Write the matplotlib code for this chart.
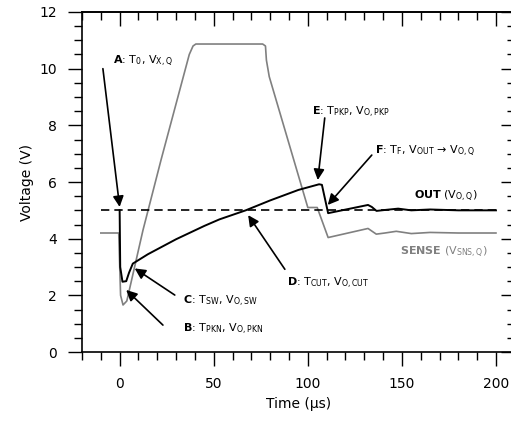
import matplotlib
matplotlib.use("Agg")
import matplotlib.pyplot as plt
from matplotlib.ticker import MultipleLocator

plt.rcParams['axes.linewidth'] = 1.2

# output voltage (black)
t_out = [0, 0.3, 1.5, 3.5, 5, 7, 15, 30, 45, 53, 67, 80, 95, 106, 107.5,
         110.8, 132, 134, 136.5, 142, 148, 155, 165, 180, 200]
v_out = [5.0, 3.0, 2.48, 2.5, 2.8, 3.12, 3.45, 3.98, 4.45, 4.68, 5.0, 5.35, 5.72, 5.92, 5.9,
         4.9, 5.19, 5.12, 4.98, 5.02, 5.06, 5.0, 5.03, 5.0, 5.0]

# sense voltage (gray)
t_sns = [-10, -0.5, 0.5, 1.8, 3.8, 4.5, 12.4, 22, 37, 39, 40.5, 76, 77.5, 78, 79.5,
         100, 105, 110.8, 132, 136.4, 141, 147, 155, 165, 180, 200]
v_sns = [4.2, 4.2, 2.0, 1.66, 1.8, 2.0, 4.3, 6.78, 10.5, 10.8, 10.87, 10.87, 10.8, 10.3, 9.72,
         5.1, 5.1, 4.04, 4.36, 4.16, 4.2, 4.26, 4.18, 4.22, 4.2, 4.2]

# quiescent level
t_q = [-10, 200]
v_q = [5.0, 5.0]

# annotations: text, text pos, arrow tail, arrow tip
notes = [
    (r'$\mathbf{A}$: T$_{\mathrm{0}}$, V$_{\mathrm{X,Q}}$', (-3.7, 10.24), (-8.9, 10.0), (0, 5.12)),
    (r'$\mathbf{B}$: T$_{\mathrm{PKN}}$, V$_{\mathrm{O,PKN}}$', (33.7, 0.78), (23, 0.95), (3.5, 2.19)),
    (r'$\mathbf{C}$: T$_{\mathrm{SW}}$, V$_{\mathrm{O,SW}}$', (33.7, 1.78), (29.3, 2.01), (8, 2.95)),
    (r'$\mathbf{D}$: T$_{\mathrm{CUT}}$, V$_{\mathrm{O,CUT}}$', (88.7, 2.42), (87.8, 2.92), (68.3, 4.83)),
    (r'$\mathbf{E}$: T$_{\mathrm{PKP}}$, V$_{\mathrm{O,PKP}}$', (102, 8.47), (109, 8.26), (105.3, 6.07)),
    (r'$\mathbf{F}$: T$_{\mathrm{F}}$, V$_{\mathrm{OUT}}$ → V$_{\mathrm{O,Q}}$', (135.6, 7.07), (134, 6.95), (110.6, 5.19)),
]

fig = plt.figure(figsize=(5.11, 4.24), dpi=100)
ax = fig.add_axes([0.1605, 0.1698, 0.8469, 0.8019])

ax.plot(t_sns, v_sns, color='#808080', lw=1.2)
ax.plot(t_out, v_out, color='black', lw=1.4)
ax.plot(t_q, v_q, color='black', lw=1.2, ls=(0, (5, 3)))

for txt, tpos, tail, tip in notes:
    ax.text(tpos[0], tpos[1], txt, fontsize=8, ha='left', va='center')
    ax.annotate('', xy=tip, xytext=tail,
                arrowprops=dict(arrowstyle='-|>', color='black', lw=1.2,
                                mutation_scale=16, shrinkA=0, shrinkB=0))

ax.text(190.5, 5.48, r'$\mathbf{OUT}$ (V$_{\mathrm{O,Q}}$)', fontsize=8, ha='right', va='center')
ax.text(195.7, 3.5, r'$\mathbf{SENSE}$ (V$_{\mathrm{SNS,Q}}$)', fontsize=8, ha='right', va='center',
        color='#808080')

ax.set_xlim(-20, 210)
ax.set_ylim(0, 12)
ax.xaxis.set_major_locator(MultipleLocator(50))
ax.xaxis.set_minor_locator(MultipleLocator(10))
ax.yaxis.set_major_locator(MultipleLocator(2))
ax.yaxis.set_minor_locator(MultipleLocator(0.5))
ax.tick_params(which='major', direction='out', length=10, width=1, pad=8, labelsize=10)
ax.tick_params(which='minor', direction='out', length=6, width=1)
ax.spines['right'].set_visible(False)

# top and right ticks point inward
top = ax.secondary_xaxis('top')
top.xaxis.set_major_locator(MultipleLocator(50))
top.xaxis.set_minor_locator(MultipleLocator(10))
top.tick_params(which='major', direction='in', length=10, width=1, labeltop=False)
top.tick_params(which='minor', direction='in', length=6, width=1)
right = ax.secondary_yaxis('right')
right.yaxis.set_major_locator(MultipleLocator(2))
right.yaxis.set_minor_locator(MultipleLocator(0.5))
right.tick_params(which='major', direction='in', length=10, width=1, labelright=False)
right.tick_params(which='minor', direction='in', length=6, width=1)
for s in right.spines.values():
    s.set_visible(False)

ax.set_xlabel('Time (µs)', fontsize=10)
ax.set_ylabel('Voltage (V)', fontsize=10)

fig.savefig('out.png', dpi=100)
